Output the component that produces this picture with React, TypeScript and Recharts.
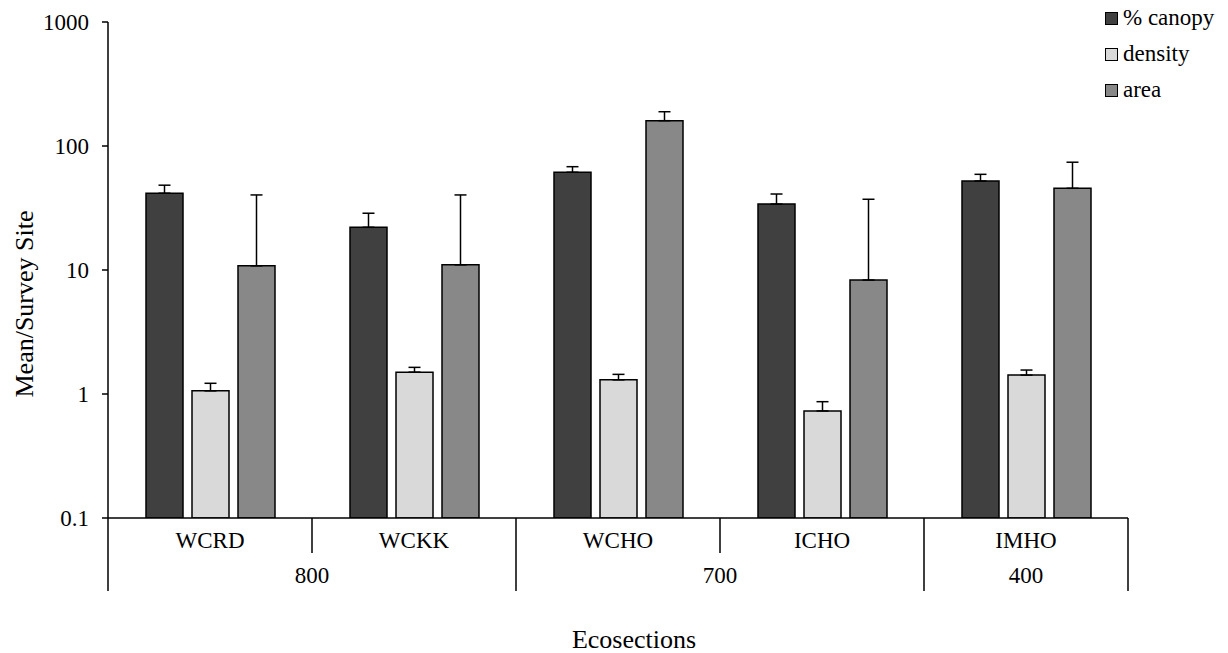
import { BarChart, Bar, XAxis, YAxis, ErrorBar, Legend } from 'recharts'

const categories = ['WCRD', 'WCKK', 'WCHO', 'ICHO', 'IMHO']
const ecoGroups = ['800', '800', '700', '700', '400']

const canopy = [41.6, 22.1, 61.4, 34.0, 52.2]
const canopyErr = [6.7, 6.6, 6.7, 7.0, 6.9]
const density = [1.06, 1.5, 1.3, 0.73, 1.42]
const densityErr = [0.16, 0.14, 0.14, 0.137, 0.14]
const area = [10.8, 11.0, 160, 8.3, 45.6]
const areaErr = [29.5, 29.3, 29, 28.9, 28.4]

const yTicks = [0.1, 1, 10, 100, 1000]

const series = [
  { key: 'canopy', label: '% canopy', color: '#404040' },
  { key: 'density', label: 'density', color: '#d9d9d9' },
  { key: 'area', label: 'area', color: '#888888' },
]

const FONT = '"Liberation Serif", "Times New Roman", serif'

// only the upper error is drawn, so the lower half is 0
const data = categories.map((name, i) => ({
  name,
  group: ecoGroups[i],
  canopy: canopy[i],
  canopyErr: [0, canopyErr[i]],
  density: density[i],
  densityErr: [0, densityErr[i]],
  area: area[i],
  areaErr: [0, areaErr[i]],
}))

function CategoryTick(props: any) {
  const { x, y, payload, index } = props
  const half = payload?.offset || 102
  const i = index ?? categories.indexOf(payload.value)
  const group = ecoGroups[i]
  const isGroupStart = i === 0 || ecoGroups[i - 1] !== group
  const isGroupEnd = i === ecoGroups.length - 1 || ecoGroups[i + 1] !== group
  const groupSize = ecoGroups.filter(g => g === group).length

  return (
    <g>
      <text x={x} y={y + 30} textAnchor="middle" fontFamily={FONT} fontSize={23} fill="#000">
        {payload.value}
      </text>
      {i === 0 && (
        <line x1={x - half} x2={x - half} y1={y} y2={y + 73} stroke="#000" strokeWidth={1.5} />
      )}
      <line
        x1={x + half}
        x2={x + half}
        y1={y}
        y2={y + (isGroupEnd ? 73 : 35)}
        stroke="#000"
        strokeWidth={1.5}
      />
      {isGroupStart && (
        <text
          x={x + (groupSize - 1) * half}
          y={y + 65}
          textAnchor="middle"
          fontFamily={FONT}
          fontSize={23}
          fill="#000"
        >
          {group}
        </text>
      )}
    </g>
  )
}

function LegendBox() {
  return (
    <div style={{ fontFamily: FONT, fontSize: 23, color: '#000' }}>
      {series.map(s => (
        <div key={s.key} style={{ display: 'flex', alignItems: 'center', height: 36, whiteSpace: 'nowrap' }}>
          <span
            style={{
              display: 'inline-block',
              width: 11,
              height: 11,
              background: s.color,
              border: '1px solid #000',
              marginRight: 5,
            }}
          />
          {s.label}
        </div>
      ))}
    </div>
  )
}

export default function App() {
  return (
    <div style={{ position: 'absolute', left: 0, top: 0, background: '#fff' }}>
      <BarChart
        width={1228}
        height={653}
        data={data}
        margin={{ top: 22, right: 100, left: 0, bottom: 0 }}
        barSize={37}
        barGap={9}
      >
        <XAxis
          dataKey="name"
          height={135}
          tickLine={false}
          tickSize={0}
          tickMargin={0}
          interval={0}
          axisLine={{ stroke: '#000', strokeWidth: 1.5 }}
          tick={<CategoryTick />}
          label={({ viewBox }: any) => (
            <text
              x={viewBox.x + viewBox.width / 2 + 16}
              y={viewBox.y + 130}
              textAnchor="middle"
              fontFamily={FONT}
              fontSize={26}
              fill="#000"
            >
              Ecosections
            </text>
          )}
        />
        <YAxis
          scale="log"
          domain={[0.1, 1000]}
          ticks={yTicks}
          allowDataOverflow
          width={108}
          tickSize={6}
          tickMargin={13}
          tickFormatter={(v: number) => String(v)}
          tick={{ fontFamily: FONT, fontSize: 23, fill: '#000' }}
          tickLine={{ stroke: '#000', strokeWidth: 1.5 }}
          axisLine={{ stroke: '#000', strokeWidth: 1.5 }}
          label={({ viewBox }: any) => {
            const cx = 33
            const cy = viewBox.y + viewBox.height / 2 + 34
            return (
              <text
                x={cx}
                y={cy}
                transform={`rotate(-90, ${cx}, ${cy})`}
                textAnchor="middle"
                fontFamily={FONT}
                fontSize={26}
                fill="#000"
              >
                Mean/Survey Site
              </text>
            )
          }}
        />
        <Legend
          layout="vertical"
          align="center"
          verticalAlign="middle"
          content={() => <LegendBox />}
          wrapperStyle={{ left: 1105, top: 0, width: 123, height: 110 }}
        />
        {series.map(s => (
          <Bar key={s.key} dataKey={s.key} fill={s.color} stroke="#000" strokeWidth={1.5} isAnimationActive={false}>
            <ErrorBar dataKey={`${s.key}Err`} width={6} stroke="#000" strokeWidth={1.5} isAnimationActive={false} />
          </Bar>
        ))}
      </BarChart>
    </div>
  )
}
